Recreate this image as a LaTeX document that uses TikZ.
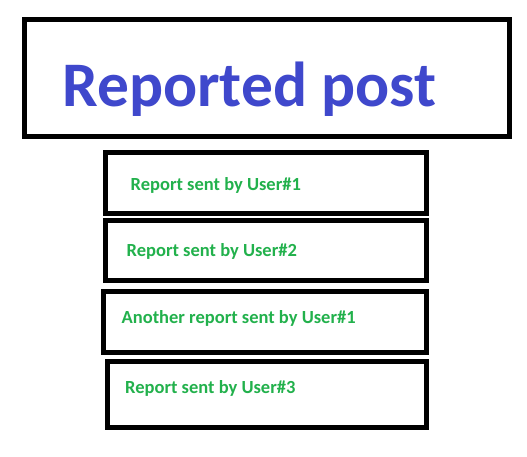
\documentclass[tikz,border=0pt]{standalone}
\usepackage{fontspec}
\setmainfont{Carlito}
\definecolor{titleblue}{HTML}{3F48CC}
\definecolor{repgreen}{HTML}{22B14C}
\begin{document}
\begin{tikzpicture}[x=1pt,y=-1pt,
  boxframe/.style={draw=black,line width=5pt},
  titletext/.style={anchor=base west,inner sep=0pt,text=titleblue,font=\bfseries\fontsize{63.5}{70}\selectfont},
  reptext/.style={anchor=base west,inner sep=0pt,text=repgreen,font=\bfseries\fontsize{18.5}{20}\selectfont}]
\useasboundingbox[fill=white] (0,0) rectangle (527,457);
\draw[boxframe] (24.5,19.5) rectangle (509.5,136.5);
\node[titletext] (title) at (62,107) {Reported post};
\draw[boxframe] (105,152.5) rectangle (426.5,213);
\node[reptext] (r1) at (130.5,190.5) {Report sent by User\#1};
\draw[boxframe] (105.5,220.5) rectangle (426.5,280.5);
\node[reptext] (r2) at (126.5,256.5) {Report sent by User\#2};
\draw[boxframe] (103.5,291.5) rectangle (426.5,352.5);
\node[reptext] (r3) at (121.5,323.5) {Another report sent by User\#1};
\draw[boxframe] (107.5,361.5) rectangle (426.5,427.5);
\node[reptext] (r4) at (125,393.5) {Report sent by User\#3};
\end{tikzpicture}
\end{document}
